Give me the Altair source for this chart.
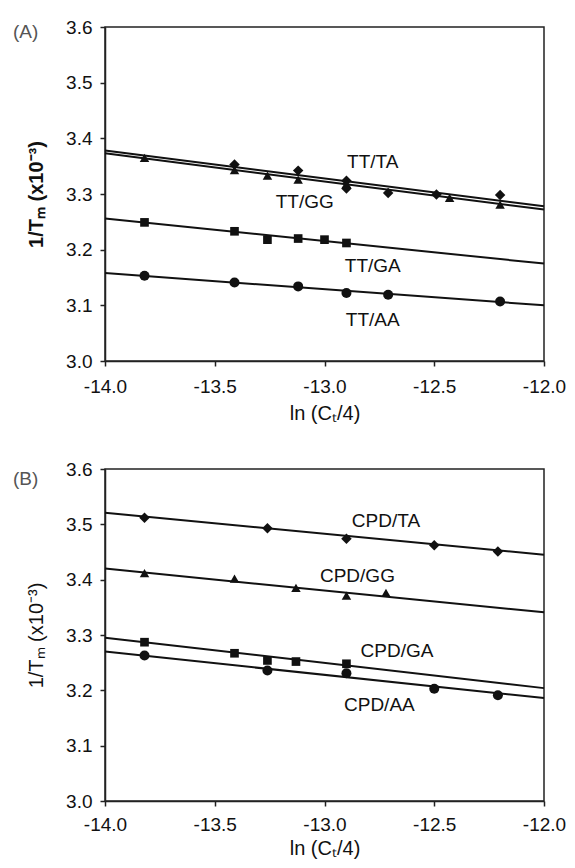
import altair as alt
import pandas as pd

FONT = "Liberation Sans"
INK = "#111111"

X_TICKS = [-14.0, -13.5, -13.0, -12.5, -12.0]
Y_TICKS = [3.0, 3.1, 3.2, 3.3, 3.4, 3.5, 3.6]
X_TITLE = "ln (Cₜ/4)"
Y_TITLE = "1/Tₘ (x10⁻³)"
LINE_X = [-14.0, -12.0]

SHAPE = {"TA": "diamond", "GG": "triangle-up", "GA": "square", "AA": "circle"}
SIZE = {"TA": 110, "GG": 90, "GA": 75, "AA": 100}

# ---------------- Panel A (TT) ----------------
A_TA_X = [-13.41, -13.12, -12.90, -12.90, -12.71, -12.49, -12.20]
A_TA_Y = [3.353, 3.342, 3.324, 3.310, 3.302, 3.299, 3.298]
A_GG_X = [-13.82, -13.41, -13.26, -13.12, -12.90, -12.43, -12.20]
A_GG_Y = [3.365, 3.343, 3.333, 3.326, 3.318, 3.293, 3.281]
A_GA_X = [-13.82, -13.41, -13.26, -13.12, -13.00, -12.90]
A_GA_Y = [3.249, 3.233, 3.218, 3.220, 3.218, 3.212]
A_AA_X = [-13.82, -13.41, -13.12, -12.90, -12.71, -12.20]
A_AA_Y = [3.153, 3.141, 3.134, 3.122, 3.119, 3.107]
A_FIT = {"TA": [3.378, 3.278], "GG": [3.373, 3.272], "GA": [3.256, 3.175], "AA": [3.158, 3.100]}
A_LABELS = ["TT/TA", "TT/GG", "TT/GA", "TT/AA"]
A_LABEL_X = [-12.78, -13.09, -12.78, -12.78]
A_LABEL_Y = [3.358, 3.286, 3.171, 3.074]

# ---------------- Panel B (CPD) ----------------
B_TA_X = [-13.82, -13.26, -12.90, -12.50, -12.21]
B_TA_Y = [3.512, 3.493, 3.474, 3.462, 3.451]
B_GG_X = [-13.82, -13.41, -13.13, -12.90, -12.72]
B_GG_Y = [3.412, 3.402, 3.385, 3.371, 3.376]
B_GA_X = [-13.82, -13.41, -13.26, -13.13, -12.90]
B_GA_Y = [3.287, 3.267, 3.254, 3.252, 3.248]
B_AA_X = [-13.82, -13.26, -12.90, -12.50, -12.21]
B_AA_Y = [3.263, 3.236, 3.231, 3.203, 3.191]
B_FIT = {"TA": [3.521, 3.445], "GG": [3.420, 3.341], "GA": [3.295, 3.204], "AA": [3.270, 3.186]}
B_LABELS = ["CPD/TA", "CPD/GG", "CPD/GA", "CPD/AA"]
B_LABEL_X = [-12.72, -12.85, -12.67, -12.75]
B_LABEL_Y = [3.506, 3.407, 3.271, 3.173]

HYPHEN_LABEL = "replace(format(datum.value, '.1f'), '\u2212', '-')"


def points_frame(series):
    rows = []
    for key, xs, ys in series:
        for xv, yv in zip(xs, ys):
            rows.append({"x": xv, "y": yv, "series": key,
                         "shape": SHAPE[key], "size": SIZE[key]})
    return pd.DataFrame(rows)


def lines_frame(fits):
    rows = []
    for key, ys in fits.items():
        for xv, yv in zip(LINE_X, ys):
            rows.append({"x": xv, "y": yv, "series": key})
    return pd.DataFrame(rows)


def panel(pts, fits, labels, lx, ly, letter, letter_y, ytitle_weight,
          height, label_pad, title_pad):
    xenc = alt.X("x:Q", scale=alt.Scale(domain=[-14, -12], nice=False, zero=False),
                 axis=alt.Axis(values=X_TICKS, labelExpr=HYPHEN_LABEL, title=X_TITLE,
                               labelFlush=False, labelPadding=label_pad,
                               titlePadding=title_pad))
    yenc = alt.Y("y:Q", scale=alt.Scale(domain=[3.0, 3.6], nice=False, zero=False),
                 axis=alt.Axis(values=Y_TICKS, format=".1f", title=Y_TITLE,
                               titleFontWeight=ytitle_weight))
    lines = alt.Chart(lines_frame(fits)).mark_line(color=INK, strokeWidth=2).encode(
        x=xenc, y=yenc, detail="series:N")
    marks = alt.Chart(points_frame(pts)).mark_point(
        filled=True, color=INK, opacity=1, strokeWidth=0).encode(
        x=xenc, y=yenc,
        shape=alt.Shape("shape:N", scale=None),
        size=alt.Size("size:Q", scale=None))
    text = alt.Chart(pd.DataFrame({"x": lx, "y": ly, "t": labels})).mark_text(
        font=FONT, fontSize=19, color=INK).encode(x=xenc, y=yenc, text="t:N")
    tag = alt.Chart(pd.DataFrame({"t": [letter]})).mark_text(
        font=FONT, fontSize=19, color="#555555", align="left", baseline="middle").encode(
        x=alt.value(-92), y=alt.value(letter_y), text="t:N")
    return alt.layer(lines, marks, text, tag).properties(width=439, height=height)


chart_a = panel(
    [("TA", A_TA_X, A_TA_Y), ("GG", A_GG_X, A_GG_Y), ("GA", A_GA_X, A_GA_Y), ("AA", A_AA_X, A_AA_Y)],
    A_FIT, A_LABELS, A_LABEL_X, A_LABEL_Y, "(A)", 5, "bold", 334, 11, 7)
chart_b = panel(
    [("TA", B_TA_X, B_TA_Y), ("GG", B_GG_X, B_GG_Y), ("GA", B_GA_X, B_GA_Y), ("AA", B_AA_X, B_AA_Y)],
    B_FIT, B_LABELS, B_LABEL_X, B_LABEL_Y, "(B)", 10, "normal", 332, 9, 4)

chart = alt.vconcat(chart_a, chart_b, spacing=35).configure_axis(
    labelFont=FONT, titleFont=FONT, labelFontSize=19, titleFontSize=20,
    labelColor=INK, titleColor=INK, domainColor="#222222", domainWidth=1.5,
    tickColor="#222222", tickWidth=1.5, tickSize=5, grid=False,
).configure_axisX(titleFontWeight="normal").configure_axisY(
    labelPadding=8, titlePadding=19
).configure_view(stroke="#222222", strokeWidth=1.5).properties(
    padding={"left": 4, "top": 9, "right": 0, "bottom": 0},
    background="white",
)

chart.save("out.html", embed_options={"renderer": "svg", "actions": False})
